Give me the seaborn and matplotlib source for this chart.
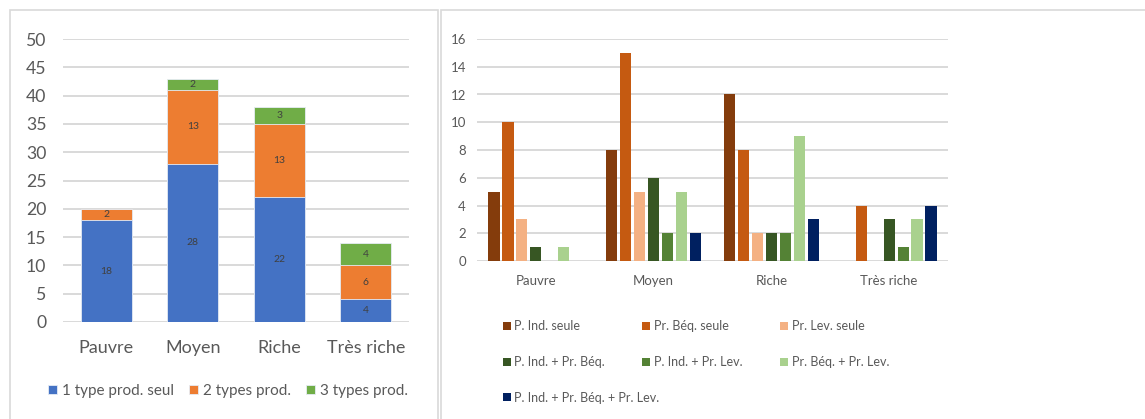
import pandas as pd
import matplotlib
matplotlib.use("Agg")
import matplotlib.pyplot as plt
import seaborn as sns
from matplotlib.patches import Rectangle

# ── data ───────────────────────────────────────────────────────────────────
categories = ["Pauvre", "Moyen", "Riche", "Très riche"]

# left panel: stacked counts
stack_names = ["1 type prod. seul", "2 types prod.", "3 types prod."]
one_type   = [18, 28, 22, 4]
two_types  = [2, 13, 13, 6]
three_types = [0, 2, 3, 4]

# right panel: grouped counts
series_names = [
    "P. Ind. seule", "Pr. Béq. seule", "Pr. Lev. seule",
    "P. Ind. + Pr. Béq.", "P. Ind. + Pr. Lev.", "Pr. Béq. + Pr. Lev.",
    "P. Ind. + Pr. Béq. + Pr. Lev.",
]
p_ind      = [5, 8, 12, 0]
pr_beq     = [10, 15, 8, 4]
pr_lev     = [3, 5, 2, 0]
ind_beq    = [1, 6, 2, 3]
ind_lev    = [0, 2, 2, 1]
beq_lev    = [1, 5, 9, 3]
ind_beq_lev = [0, 2, 3, 4]

stack_colors  = ["#4472C4", "#ED7D31", "#70AD47"]
series_colors = ["#843C0C", "#C55A11", "#F4B183", "#375623",
                 "#548235", "#A9D18E", "#002060"]

GRID = "#D9D9D9"
TXT = "#595959"

sns.set_theme(style="white")
plt.rcParams["font.family"] = ["Lato", "DejaVu Sans"]

W, H = 1145, 419
fig = plt.figure(figsize=(W / 100, H / 100), dpi=100)

def fx(px):
    return px / W

def fy(py):
    return 1 - py / H

# panel frames
fig.add_artist(Rectangle((fx(10), -0.05), fx(428), fy(10) + 0.05,
                         transform=fig.transFigure, fill=False,
                         edgecolor=GRID, lw=1.2))
fig.add_artist(Rectangle((fx(441), -0.05), 0.7, fy(10) + 0.05,
                         transform=fig.transFigure, fill=False,
                         edgecolor=GRID, lw=1.2))

def style_axes(ax, ymax, step, fs_tick, fs_cat, ypad, xpad):
    ax.set_xlim(-0.5, 3.5)
    ax.set_ylim(0, ymax)
    ax.set_yticks(range(0, ymax + 1, step))
    ax.yaxis.grid(True, color=GRID, lw=1.4)
    ax.set_axisbelow(True)
    for s in ax.spines.values():
        s.set_visible(False)
    ax.tick_params(axis="y", length=0, pad=ypad, labelsize=fs_tick, labelcolor=TXT)
    ax.tick_params(axis="x", length=0, pad=xpad, labelsize=fs_cat, labelcolor=TXT)
    ax.set_xlabel("")
    ax.set_ylabel("")

# ── left: stacked bars ─────────────────────────────────────────────────────
ax1 = fig.add_axes([fx(63), fy(322), fx(409 - 63), fy(39) - fy(322)])
lvl2 = [a + b for a, b in zip(one_type, two_types)]
lvl3 = [a + b for a, b in zip(lvl2, three_types)]
for tops, col, name in [(lvl3, stack_colors[2], stack_names[2]),
                        (lvl2, stack_colors[1], stack_names[1]),
                        (one_type, stack_colors[0], stack_names[0])]:
    sns.barplot(x=categories, y=tops, color=col, width=0.59, ax=ax1,
                saturation=1, edgecolor="#E6ECF5", linewidth=0.6, label=name)

bottoms = [[0] * 4, one_type, lvl2]
for vals, bots in zip([one_type, two_types, three_types], bottoms):
    for i, (v, b) in enumerate(zip(vals, bots)):
        if v > 0:
            ax1.text(i, b + v / 2, str(v), ha="center", va="center",
                     fontsize=7.5, color="#404040")

style_axes(ax1, 50, 5, 12.7, 13, 12, 13)

h, l = ax1.get_legend_handles_labels()
order = [l.index(n) for n in stack_names]
ax1.legend([h[i] for i in order], [l[i] for i in order], ncol=3,
           loc="center", bbox_to_anchor=(fx(228), fy(391)),
           bbox_transform=fig.transFigure, frameon=False, fontsize=11,
           labelcolor=TXT, handlelength=0.6, handleheight=0.6,
           handletextpad=0.3, columnspacing=1.0)

# ── right: grouped bars ────────────────────────────────────────────────────
ax2 = fig.add_axes([fx(477), fy(261), fx(948 - 477), fy(39) - fy(261)])
series_vals = [p_ind, pr_beq, pr_lev, ind_beq, ind_lev, beq_lev, ind_beq_lev]
df = pd.DataFrame({
    "cat": [c for _ in series_names for c in categories],
    "serie": [s for s in series_names for _ in categories],
    "val": [v for vals in series_vals for v in vals],
})
sns.barplot(data=df, x="cat", y="val", hue="serie", order=categories,
            hue_order=series_names, palette=series_colors, width=0.83,
            gap=0.2, linewidth=0, saturation=1, ax=ax2)
style_axes(ax2, 16, 2, 9.5, 9.5, 8, 10)

handles, labels = ax2.get_legend_handles_labels()
ax2.get_legend().remove()
col_x = [502, 641, 779]
row_y = [324, 361, 396]
for c in range(3):
    idx = [i for i in range(c, len(series_names), 3)]
    leg = fig.legend([handles[i] for i in idx], [labels[i] for i in idx],
                     loc="upper left",
                     bbox_to_anchor=(fx(col_x[c] - 5), fy(row_y[0] - 10)),
                     frameon=False, labelcolor=TXT, fontsize=9,
                     handlelength=0.6, handleheight=0.6, handletextpad=0.3,
                     labelspacing=1.9, borderpad=0)

fig.savefig("out.png", dpi=100)
